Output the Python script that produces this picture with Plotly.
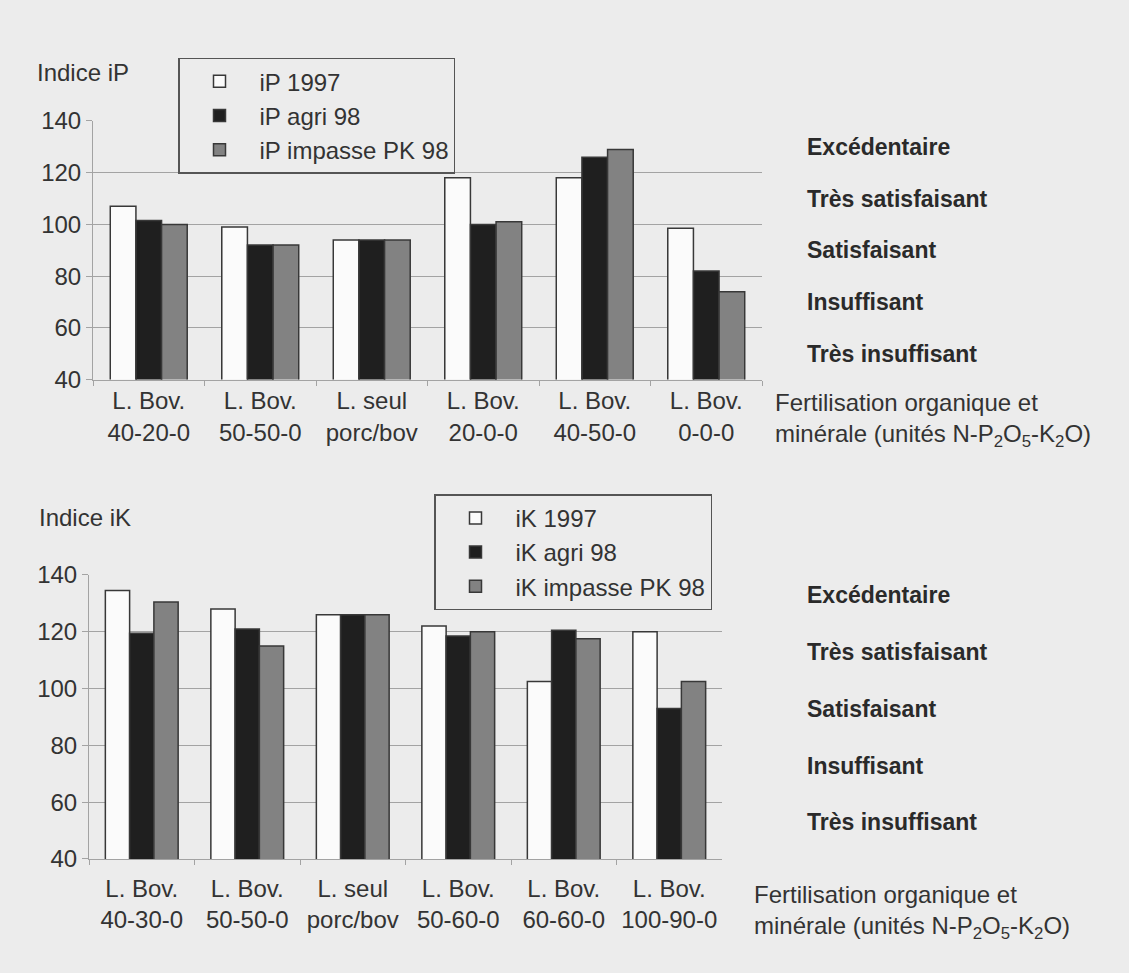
import plotly.graph_objects as go

W, H = 1129, 973

# ---------------- data ----------------
cats_p = ["L. Bov.<br>40-20-0", "L. Bov.<br>50-50-0", "L. seul<br>porc/bov",
          "L. Bov.<br>20-0-0", "L. Bov.<br>40-50-0", "L. Bov.<br>0-0-0"]
ip_1997 = [107, 99, 94, 118, 118, 98.5]
ip_agri98 = [101.5, 92, 94, 100, 126, 82]
ip_impasse98 = [100, 92, 94, 101, 129, 74]

cats_k = ["L. Bov.<br>40-30-0", "L. Bov.<br>50-50-0", "L. seul<br>porc/bov",
          "L. Bov.<br>50-60-0", "L. Bov.<br>60-60-0", "L. Bov.<br>100-90-0"]
ik_1997 = [134.5, 128, 126, 122, 102.5, 120]
ik_agri98 = [119.5, 121, 126, 118.5, 120.5, 93]
ik_impasse98 = [130.5, 115, 126, 120, 117.5, 102.5]

levels = ["Excédentaire", "Très satisfaisant", "Satisfaisant", "Insuffisant", "Très insuffisant"]
level_y = [130, 110, 90, 70, 50]

names_p = ["iP 1997", "iP agri 98", "iP impasse PK 98"]
names_k = ["iK 1997", "iK agri 98", "iK impasse PK 98"]

# ---------------- style ----------------
BG = "#ececec"
FILLS = ["#fbfbfb", "#1f1f1f", "#828282"]
LINE = "#383838"
GRID = "#a3a3a3"
TXT = "#333333"
FONT = "Liberation Sans, Arial, sans-serif"


def fx(px):
    return px / W


def fy(py):
    return 1 - py / H


fig = go.Figure()

for vals, name, col in zip([ip_1997, ip_agri98, ip_impasse98], names_p, FILLS):
    fig.add_trace(go.Bar(x=cats_p, y=vals, name=name, xaxis="x", yaxis="y",
                         marker=dict(color=col, line=dict(color=LINE, width=1.5)),
                         legend="legend"))

for vals, name, col in zip([ik_1997, ik_agri98, ik_impasse98], names_k, FILLS):
    fig.add_trace(go.Bar(x=cats_k, y=vals, name=name, xaxis="x2", yaxis="y2",
                         marker=dict(color=col, line=dict(color=LINE, width=1.5)),
                         legend="legend2"))

xcommon = dict(type="category", showline=True, linecolor=GRID, linewidth=1,
               ticks="outside", tickson="boundaries", ticklen=5, tickcolor=GRID,
               tickfont=dict(size=24, color=TXT, family=FONT), showgrid=False)
ycommon = dict(range=[40, 140], dtick=20, showline=True, linecolor=GRID, linewidth=1,
               ticks="outside", ticklen=6, tickcolor=GRID, gridcolor=GRID, gridwidth=1,
               tickfont=dict(size=24, color=TXT, family=FONT), zeroline=False)

legcommon = dict(bgcolor=BG, bordercolor="#555555", borderwidth=1.5,
                 font=dict(size=24, color=TXT, family=FONT),
                 xanchor="left", yanchor="top", traceorder="normal",
                 itemwidth=70)

annotations = []
for lab, yv in zip(levels, level_y):
    annotations.append(dict(text=f"<b>{lab}</b>", xref="paper", yref="y", x=fx(805), y=yv,
                            xanchor="left", yanchor="middle", showarrow=False,
                            font=dict(size=23, color="#2a2a2a", family=FONT)))
    annotations.append(dict(text=f"<b>{lab}</b>", xref="paper", yref="y2", x=fx(805), y=yv,
                            yshift=8, xanchor="left", yanchor="middle", showarrow=False,
                            font=dict(size=23, color="#2a2a2a", family=FONT)))

axis_title = "Fertilisation organique et<br>minérale (unités N-P<sub>2</sub>O<sub>5</sub>-K<sub>2</sub>O)"
annotations.append(dict(text=axis_title, xref="paper", yref="paper", x=fx(773), y=fy(384),
                        xanchor="left", yanchor="top", align="left", showarrow=False,
                        font=dict(size=24, color=TXT, family=FONT)))
annotations.append(dict(text=axis_title, xref="paper", yref="paper", x=fx(752), y=fy(890),
                        xanchor="left", yanchor="top", align="left", showarrow=False,
                        font=dict(size=24, color=TXT, family=FONT)))
annotations.append(dict(text="Indice iP", xref="paper", yref="paper", x=fx(35), y=fy(60),
                        xanchor="left", yanchor="middle", showarrow=False,
                        font=dict(size=24, color=TXT, family=FONT)))
annotations.append(dict(text="Indice iK", xref="paper", yref="paper", x=fx(37), y=fy(518),
                        xanchor="left", yanchor="middle", showarrow=False,
                        font=dict(size=24, color=TXT, family=FONT)))

fig.update_layout(
    width=W, height=H,
    margin=dict(l=0, r=0, t=0, b=0),
    paper_bgcolor=BG, plot_bgcolor=BG,
    barmode="group", bargap=0.31, bargroupgap=0,
    font=dict(family=FONT, color=TXT),
    xaxis=dict(domain=[fx(93), fx(762)], anchor="y", **xcommon),
    yaxis=dict(domain=[fy(376), fy(110)], anchor="x", **ycommon),
    xaxis2=dict(domain=[fx(89), fx(722)], anchor="y2", ticklabelstandoff=8, **xcommon),
    yaxis2=dict(domain=[fy(869), fy(577)], anchor="x2", **ycommon),
    legend=dict(x=fx(178), y=fy(45), **legcommon),
    legend2=dict(x=fx(434), y=fy(494), **legcommon),
    annotations=annotations,
)

fig.write_html("out.html", config={"displayModeBar": False},
               post_script="document.body.style.margin='0';")
